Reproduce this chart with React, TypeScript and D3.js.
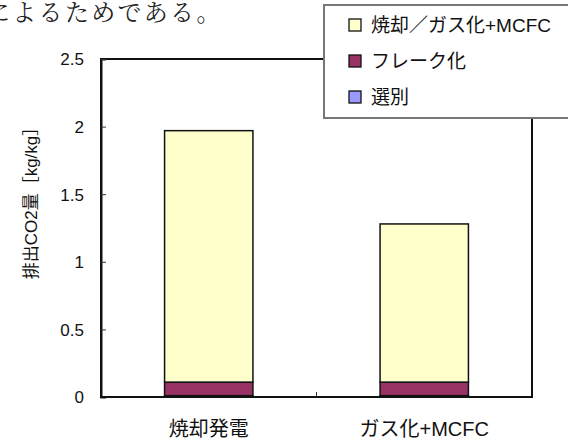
import React from 'react';
import * as d3 from 'd3';
import { useEffect, useRef } from 'react';

const categories = ['焼却発電', 'ガス化+MCFC'];
const selectValues = [0.01, 0.01];
const flakeValues = [0.1, 0.1];
const burnValues = [1.86, 1.17];
const seriesKeys = ['select', 'flake', 'burn'];
const seriesNames = ['選別', 'フレーク化', '焼却／ガス化+MCFC'];
const seriesColors = ['#9999FF', '#993366', '#FFFFCC'];
const yTicks = [0, 0.5, 1, 1.5, 2, 2.5];

const WIDTH = 568;
const HEIGHT = 443;

const App = () => {
    const chartRef = useRef<SVGSVGElement | null>(null);

    useEffect(() => {
        const svg = d3.select(chartRef.current);
        svg.selectAll('*').remove();

        const left = 101, right = 532, top = 59, bottom = 397;
        const font = '"Liberation Sans", Arial, "Noto Sans CJK JP", sans-serif';

        const rows = categories.map((c, i) => ({
            category: c,
            select: selectValues[i],
            flake: flakeValues[i],
            burn: burnValues[i]
        }));

        const stacked = d3.stack<any>().keys(seriesKeys)(rows);

        const xScale = d3.scaleBand()
            .domain(categories)
            .range([left, right])
            .padding(0);

        const yScale = d3.scaleLinear()
            .domain([0, 2.5])
            .range([bottom, top]);

        const barWidth = xScale.bandwidth() * 0.41;

        // sentence fragment above the chart (cut at the left edge, as in the source page)
        svg.append('text')
            .attr('x', -14)
            .attr('y', 21)
            .style('font-family', '"Noto Serif CJK JP", "Noto Sans CJK JP", serif')
            .style('font-size', '24px')
            .style('letter-spacing', '2.3px')
            .style('fill', '#222')
            .text('によるためである。');

        // plot frame
        svg.append('rect')
            .attr('x', left)
            .attr('y', top)
            .attr('width', right - left)
            .attr('height', bottom - top)
            .attr('fill', 'white')
            .attr('stroke', '#111')
            .attr('stroke-width', 2);

        // stacked bars
        stacked.forEach((layer, li) => {
            svg.append('g')
                .selectAll('rect')
                .data(layer)
                .enter()
                .append('rect')
                .attr('x', (d: any) => (xScale(d.data.category) ?? 0) + xScale.bandwidth() / 2 - barWidth / 2)
                .attr('y', d => yScale(d[1]))
                .attr('width', barWidth)
                .attr('height', d => yScale(d[0]) - yScale(d[1]))
                .attr('fill', seriesColors[li])
                .attr('stroke', '#111')
                .attr('stroke-width', 1.5);
        });

        // y axis
        const yAxis = svg.append('g')
            .attr('transform', `translate(${left},0)`)
            .call(d3.axisRight(yScale).tickValues(yTicks).tickSize(5).tickFormat(d => String(d)));
        yAxis.select('.domain').attr('stroke', '#111').attr('stroke-width', 2);
        yAxis.selectAll('.tick line').attr('stroke', '#333');
        yAxis.selectAll('.tick text')
            .attr('x', -17)
            .attr('text-anchor', 'end')
            .attr('dy', '0.35em')
            .style('font-family', font)
            .style('font-size', '17px')
            .style('fill', '#111');

        // category divider ticks
        const dividers = [left + xScale.step()];
        svg.append('g')
            .selectAll('line')
            .data(dividers)
            .enter()
            .append('line')
            .attr('x1', d => d)
            .attr('x2', d => d)
            .attr('y1', bottom)
            .attr('y2', bottom - 5)
            .attr('stroke', '#333');

        svg.append('line')
            .attr('x1', left)
            .attr('x2', right)
            .attr('y1', bottom)
            .attr('y2', bottom)
            .attr('stroke', '#111')
            .attr('stroke-width', 2);

        // x labels
        svg.append('g')
            .selectAll('text')
            .data(categories)
            .enter()
            .append('text')
            .attr('x', d => (xScale(d) ?? 0) + xScale.bandwidth() / 2)
            .attr('y', 436)
            .attr('text-anchor', 'middle')
            .style('font-family', font)
            .style('font-size', '20px')
            .style('fill', '#111')
            .text(d => d);

        // y title
        svg.append('text')
            .attr('transform', `translate(37,199) rotate(-90)`)
            .attr('text-anchor', 'middle')
            .style('font-family', font)
            .style('font-size', '17px')
            .style('fill', '#111')
            .text('排出CO2量［kg/kg］');

        // legend
        const legend = svg.append('g');
        legend.append('rect')
            .attr('x', 324)
            .attr('y', 5)
            .attr('width', 260)
            .attr('height', 113)
            .attr('fill', 'white')
            .attr('stroke', '#777')
            .attr('stroke-width', 2);

        const legendOrder = [2, 1, 0];
        legendOrder.forEach((si, i) => {
            const cy = 25 + i * 36;
            legend.append('rect')
                .attr('x', 349)
                .attr('y', cy - 6)
                .attr('width', 12)
                .attr('height', 12)
                .attr('fill', seriesColors[si])
                .attr('stroke', '#111')
                .attr('stroke-width', 1.3);
            legend.append('text')
                .attr('x', 371)
                .attr('y', cy)
                .attr('dy', '0.35em')
                .style('font-family', font)
                .style('font-size', '19px')
                .style('fill', '#111')
                .text(seriesNames[si]);
        });
    }, []);

    return (
        <svg ref={chartRef} width={WIDTH} height={HEIGHT}
             style={{ position: 'absolute', left: 0, top: 0, background: 'white' }}></svg>
    );
};

export default App;
